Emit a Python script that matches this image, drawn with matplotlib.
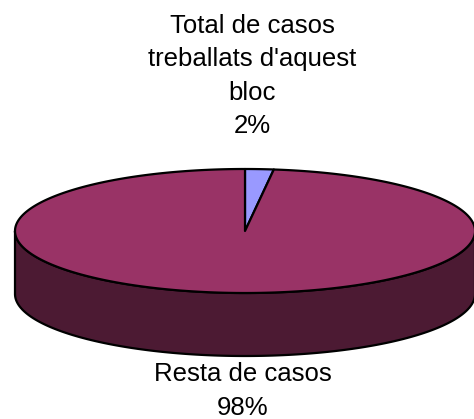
import numpy as np
import matplotlib
matplotlib.use("Agg")
import matplotlib.pyplot as plt
from matplotlib.patches import Polygon

# ---- data ----
categories = ["Total de casos\ntreballats d'aquest\nbloc", "Resta de casos"]
values = [2, 98]
top_colors = ["#9999ff", "#993366"]
side_colors = ["#4c4c80", "#4c1a33"]

# ---- layout (pixel units) ----
W, H = 474, 419
cx, cy = 245, 231      # centre of top ellipse
a, b = 230, 62         # semi axes
depth = 63             # thickness of the pie
label_pos = [(252, 76), (243, 391)]

fig = plt.figure(figsize=(W / 100, H / 100), dpi=100)
ax = fig.add_axes([0, 0, 1, 1])
ax.set_xlim(0, W)
ax.set_ylim(H, 0)
ax.axis("off")

def pt(t_deg, dy=0.0):
    t = np.radians(t_deg)
    return cx + a * np.sin(t), cy - b * np.cos(t) + dy

total = float(sum(values))
bounds = np.concatenate([[0], np.cumsum(values)]) / total * 360.0

# sides (front half: 90..270 degrees clockwise from top)
for i in range(len(values)):
    t0, t1 = max(bounds[i], 90), min(bounds[i + 1], 270)
    if t1 <= t0:
        continue
    ts = np.linspace(t0, t1, 200)
    top = [pt(t) for t in ts]
    bot = [pt(t, depth) for t in ts[::-1]]
    ax.add_patch(Polygon(top + bot, closed=True, facecolor=side_colors[i],
                         edgecolor="black", linewidth=1.6, joinstyle="round"))

# top faces
for i in range(len(values)):
    ts = np.linspace(bounds[i], bounds[i + 1], max(int((bounds[i + 1] - bounds[i]) * 2), 10))
    verts = [(cx, cy)] + [pt(t) for t in ts]
    ax.add_patch(Polygon(verts, closed=True, facecolor=top_colors[i],
                         edgecolor="black", linewidth=1.6, joinstyle="round"))

# labels
for i, (lx, ly) in enumerate(label_pos):
    pct = round(values[i] / total * 100)
    ax.text(lx, ly, f"{categories[i]}\n{pct}%", ha="center", va="center",
            fontsize=18.5, family=["Liberation Sans", "DejaVu Sans"],
            linespacing=1.5, color="black")

fig.savefig("out.png", dpi=100)
